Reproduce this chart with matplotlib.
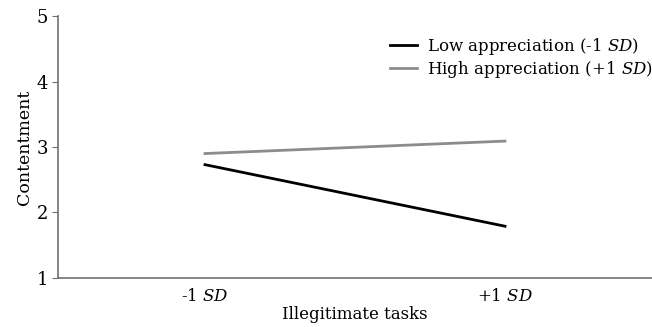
import matplotlib
matplotlib.use('Agg')
from matplotlib import pyplot as plt

# data
x_levels = [0, 1]
x_labels = ['-1 $\\it{SD}$', '+1 $\\it{SD}$']
low_appreciation = [2.73, 1.79]
high_appreciation = [2.90, 3.09]
y_ticks = [1, 2, 3, 4, 5]

plt.rcParams['font.family'] = 'DejaVu Serif'
plt.rcParams['mathtext.fontset'] = 'custom'
plt.rcParams['mathtext.it'] = 'DejaVu Serif:italic'
plt.rcParams['mathtext.rm'] = 'DejaVu Serif'

fig = plt.figure(figsize=(6.52, 3.27), dpi=100)
ax = fig.add_axes([58 / 652, 0.15, 1 - 58 / 652, 0.801])

ax.plot(x_levels, low_appreciation, color='black', lw=2, label='Low appreciation (-1 $\\it{SD}$)')
ax.plot(x_levels, high_appreciation, color='#8c8c8c', lw=2, label='High appreciation (+1 $\\it{SD}$)')

ax.set_xlim(-0.49, 1.49)
ax.set_ylim(1, 5)
ax.set_yticks(y_ticks)
ax.set_yticklabels([str(v) for v in y_ticks], fontsize=13)
ax.set_xticks(x_levels)
ax.set_xticklabels(x_labels, fontsize=12)
ax.tick_params(axis='x', length=0, pad=7)
ax.tick_params(axis='y', length=4, color='#707070', pad=3)

for s in ['top', 'right']:
    ax.spines[s].set_visible(False)
for s in ['left', 'bottom']:
    ax.spines[s].set_color('#707070')
    ax.spines[s].set_linewidth(1.2)

ax.set_ylabel('Contentment', fontsize=12.5, labelpad=3)
ax.set_xlabel('Illegitimate tasks', fontsize=12, labelpad=1)

ax.legend(loc='upper left', bbox_to_anchor=(0.545, 0.955), frameon=False, fontsize=12,
          handlelength=1.6, handletextpad=0.6, labelspacing=0.12, borderpad=0)

fig.savefig('out.png', dpi=100)
